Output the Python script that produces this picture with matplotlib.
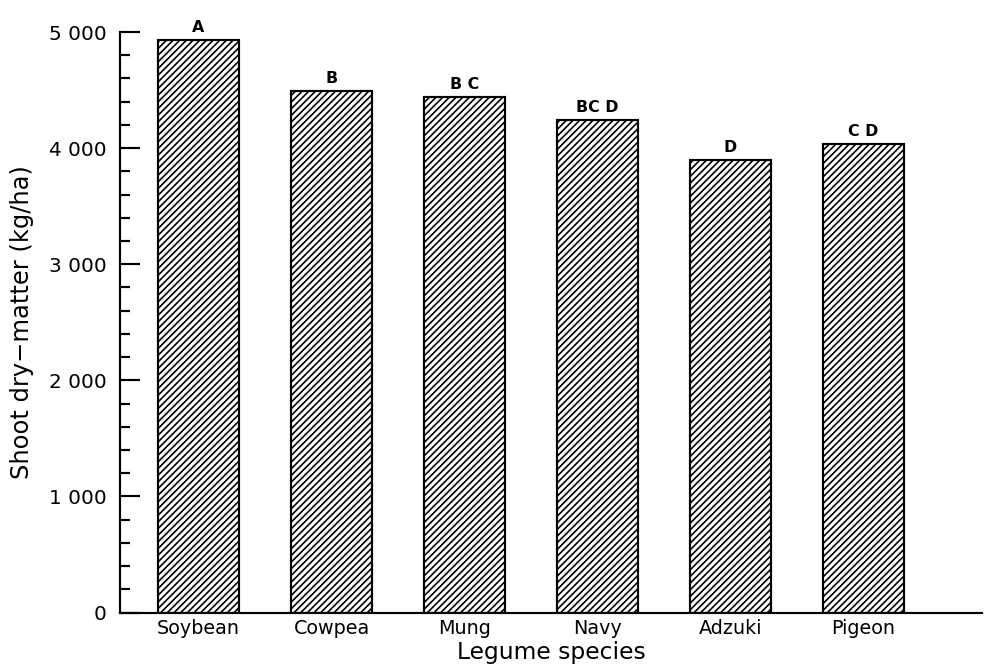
import matplotlib
matplotlib.use("Agg")
import matplotlib.pyplot as plt
from matplotlib.ticker import MultipleLocator, FuncFormatter

species = ["Soybean", "Cowpea", "Mung", "Navy", "Adzuki", "Pigeon"]
dry_matter = [4935, 4495, 4440, 4240, 3900, 4035]
groups = ["A", "B", "B C", "BC D", "D", "C D"]

plt.rcParams['font.family'] = ['DejaVu Sans']
plt.rcParams['hatch.linewidth'] = 1.0

fig = plt.figure(figsize=(988/120, 668/120), dpi=120)
ax = fig.add_axes([120/988, 1-612.5/668, 862/988, 580.5/668])

x = range(len(species))
bars = ax.bar(x, dry_matter, width=0.61, color='white', edgecolor='black',
              linewidth=1.3, hatch='//////')

for xi, v, g in zip(x, dry_matter, groups):
    ax.annotate(g, (xi, v), xytext=(0, 3), textcoords='offset points',
                ha='center', va='bottom', fontsize=9.5, fontweight='bold')

ax.set_xlim(-0.59, 5.89)
ax.set_ylim(0, 5000)
ax.set_xticks(list(x))
ax.set_xticklabels(species, fontsize=11.5)
ax.tick_params(axis='x', length=0, pad=4)

ax.yaxis.set_major_locator(MultipleLocator(1000))
ax.yaxis.set_minor_locator(MultipleLocator(200))
ax.yaxis.set_major_formatter(FuncFormatter(lambda v, p: f"{int(v):,}".replace(",", " ")))
ax.tick_params(axis='y', which='major', direction='in', length=12, width=1.3, labelsize=12, pad=8)
ax.tick_params(axis='y', which='minor', direction='in', length=6, width=1.3)

for s in ['top', 'right']:
    ax.spines[s].set_visible(False)
for s in ['left', 'bottom']:
    ax.spines[s].set_linewidth(1.3)

ax.set_ylabel("Shoot dry\u2212matter (kg/ha)", fontsize=14.5, labelpad=9)
ax.set_xlabel("Legume species", fontsize=14, labelpad=1.5)

fig.savefig("out.png", dpi=120)
